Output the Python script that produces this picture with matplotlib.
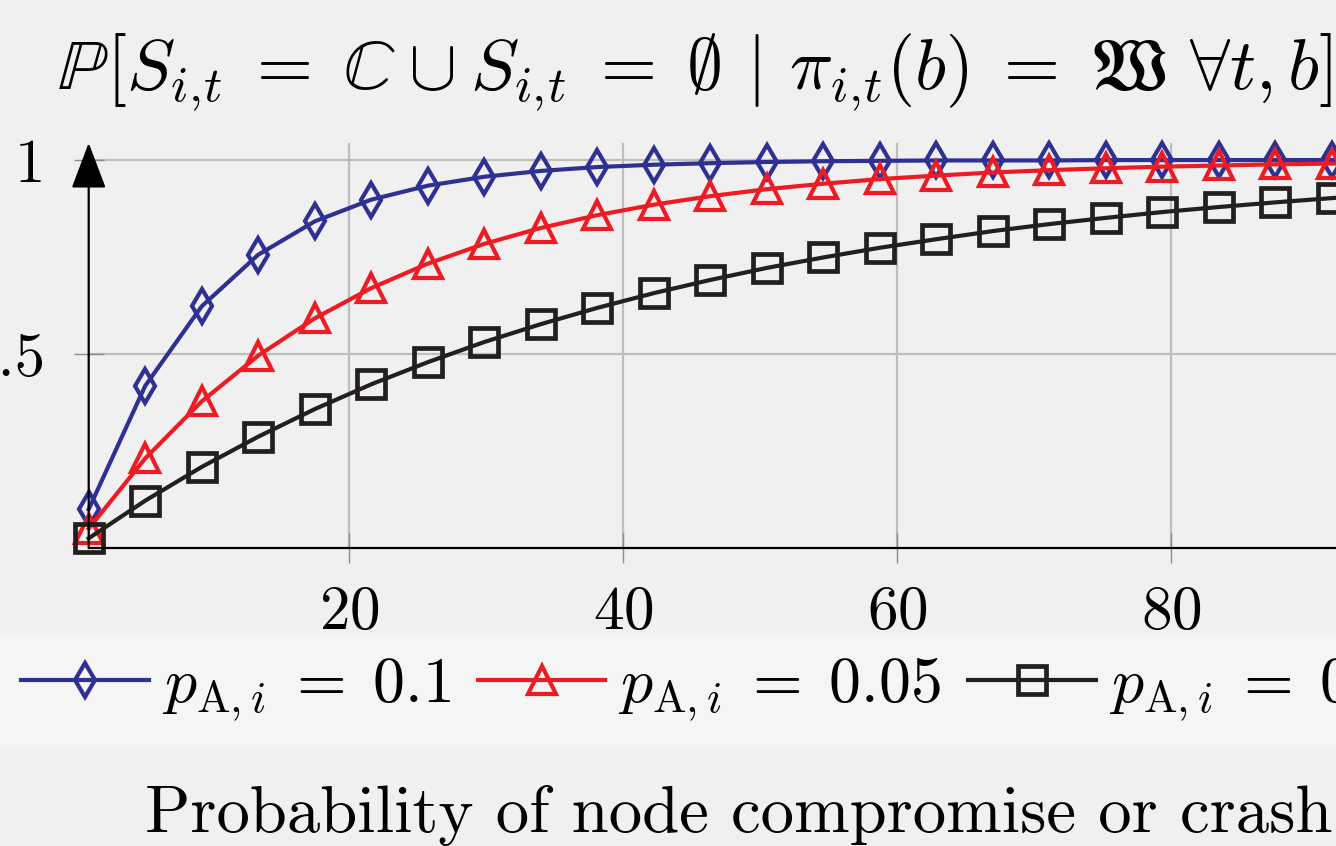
import numpy as np
import matplotlib
matplotlib.use("Agg")
import matplotlib.pyplot as plt
from matplotlib.patches import Rectangle

plt.rcParams['font.family'] = 'serif'
plt.rcParams['font.serif'] = ['cmr10', 'DejaVu Serif']
plt.rcParams['mathtext.fontset'] = 'cm'
plt.rcParams['axes.formatter.use_mathtext'] = True

# number of nodes (x) and probability of compromise/crash for each p_A,i
x_nodes = [1, 5.125, 9.25, 13.375, 17.5, 21.625, 25.75, 29.875, 34, 38.125,
           42.25, 46.375, 50.5, 54.625, 58.75, 62.875, 67, 71.125, 75.25,
           79.375, 83.5, 87.625, 91.75, 95.875, 100]
p_010 = [0.100, 0.418, 0.623, 0.756, 0.842, 0.898, 0.934, 0.957, 0.972, 0.982,
         0.988, 0.992, 0.995, 0.997, 0.998, 0.999, 0.999, 0.999, 1.0, 1.0,
         1.0, 1.0, 1.0, 1.0, 1.0]
p_005 = [0.050, 0.231, 0.378, 0.496, 0.592, 0.670, 0.733, 0.784, 0.825, 0.858,
         0.885, 0.907, 0.925, 0.939, 0.951, 0.960, 0.968, 0.974, 0.979, 0.983,
         0.986, 0.989, 0.991, 0.993, 0.994]
p_0025 = [0.025, 0.122, 0.209, 0.287, 0.358, 0.422, 0.479, 0.531, 0.577, 0.619,
          0.657, 0.691, 0.722, 0.749, 0.774, 0.796, 0.817, 0.835, 0.851, 0.866,
          0.879, 0.891, 0.902, 0.912, 0.920]
series_labels = [r'$p_{\mathrm{A},i} \;=\; 0.1$', r'$p_{\mathrm{A},i} \;=\; 0.05$',
                 r'$p_{\mathrm{A},i} \;=\; 0.025$']
xticks = [20, 40, 60, 80]
yticks = [0.5, 1]
ytick_labels = ['0.5', '1']

W, H = 1336, 846
fig = plt.figure(figsize=(W / 100, H / 100), dpi=100)
fig.patch.set_facecolor('#F0F0F0')

# axes run past the right edge of the picture (cropped figure)
ax = fig.add_axes([88.7 / W, (H - 548) / H, (1445 - 88.7) / W, (548 - 143) / H])
ax.set_facecolor('#F0F0F0')

ax.plot(x_nodes, p_010, color='#2E3192', lw=3.0, marker='d', ms=17,
        mfc='none', mew=3.0, label=series_labels[0], clip_on=False)
ax.plot(x_nodes, p_005, color='#ED1C24', lw=3.0, marker='^', ms=20,
        mfc='none', mew=3.0, label=series_labels[1], clip_on=False)
ax.plot(x_nodes, p_0025, color='#231F20', lw=3.0, marker='s', ms=20,
        mfc='none', mew=3.4, label=series_labels[2], clip_on=False)

ax.set_xlim(1, 100)
ax.set_ylim(0, 1.044)
ax.set_xticks(xticks)
ax.set_yticks(yticks, ytick_labels)
ax.grid(color='#BEBEBE', lw=1.6)
ax.set_axisbelow(True)
ax.tick_params(direction='inout', length=22, width=1.0, color='#8C8C8C',
               labelsize=44)
ax.tick_params(axis='x', pad=16)
ax.tick_params(axis='y', pad=20)

for s in ['top', 'right', 'left']:
    ax.spines[s].set_visible(False)
ax.spines['bottom'].set_color('black')
ax.spines['bottom'].set_linewidth(1.6)

# y axis with arrow head
ax.annotate('', xy=(0, 1.0), xycoords='axes fraction', xytext=(0, 0),
            arrowprops=dict(arrowstyle='-|>,head_length=2.9,head_width=1.1',
                            color='black', lw=1.6, shrinkA=0, shrinkB=0,
                            mutation_scale=10))

# legend band
fig.patches.append(Rectangle((0, (H - 747) / H), 1, (747 - 633) / H,
                             transform=fig.transFigure, facecolor='#F5F5F5',
                             edgecolor='none', zorder=0))
fig.legend(loc='center left', bbox_to_anchor=(21 / W, 1 - 690 / H), ncol=3,
           frameon=False, fontsize=46, handlelength=2.0, handletextpad=0.2,
           columnspacing=0.42, borderpad=0, borderaxespad=0, numpoints=1)

fig.text(57 / W, 1 - 89 / H,
         r'$\mathbb{P}[S_{i,\!t} \;=\; \mathbb{C} \:\cup\: S_{i,\!t} \;=\; \emptyset \,\mid\, '
         r'\pi_{i,\!t}(b) \;=\; \mathfrak{W}\ \forall t, b]$',
         fontsize=52, ha='left', va='baseline')
fig.text(145 / W, 1 - 832 / H, 'Probability of node compromise or crash',
         fontsize=48, ha='left', va='baseline')

fig.savefig('out.png', dpi=100, facecolor=fig.get_facecolor())
